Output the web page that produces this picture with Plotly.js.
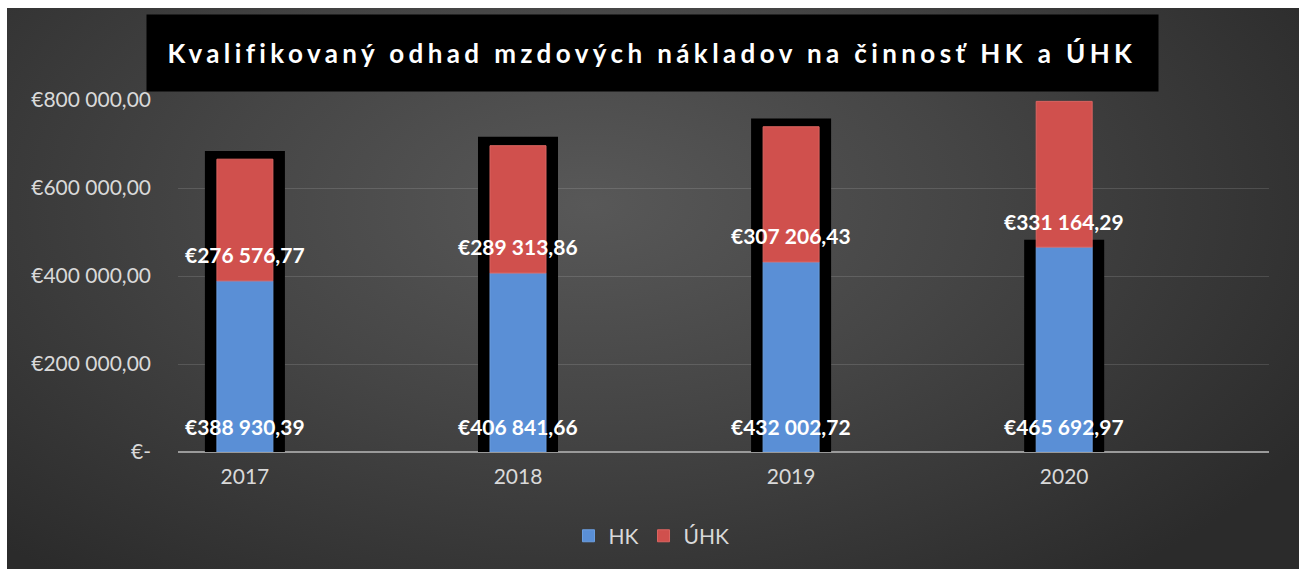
<!DOCTYPE html>
<html><head><meta charset="utf-8">
<script src="https://cdn.plot.ly/plotly-3.0.1.min.js"></script>
<style>
html,body{margin:0;padding:0;background:#fff;}
#chart{position:absolute;left:7px;top:8px;width:1292px;height:561px;
background: radial-gradient(ellipse 65% 85% at 45% 35%, #585858 0%, #454545 45%, #2b2b2b 100%);}
g.annotation[data-index="0"] text{letter-spacing:4.4px;}
</style></head><body><div id="chart"></div>
<script>
const years = ['2017','2018','2019','2020'];
const hk = [388930.39, 406841.66, 432002.72, 465692.97];
const uhk = [276576.77, 289313.86, 307206.43, 331164.29];
const shadowTop = [684000, 716500, 758000, 482500];
const yTickVals = [0, 200000, 400000, 600000, 800000];
const yTickText = ['€-', '€200 000,00', '€400 000,00', '€600 000,00', '€800 000,00'];
const seriesNames = ['HK', 'ÚHK'];
const titleText = 'Kvalifikovaný odhad mzdových nákladov na činnosť HK a ÚHK';

function fmt(v){
  const parts = v.toFixed(2).split('.');
  return '€' + parts[0].replace(/\B(?=(\d{3})+(?!\d))/g, ' ') + ',' + parts[1];
}

const FONT = 'Lato, "Open Sans", sans-serif';

const traces = [
  {type:'bar', x:years, y:shadowTop, width:0.293, marker:{color:'#000'}, showlegend:false, hoverinfo:'skip'},
  {type:'bar', name:seriesNames[0], x:years, y:hk, base:0, width:0.205, marker:{color:'#5a8fd6', line:{width:1, color:'#6c9fe0'}}},
  {type:'bar', name:seriesNames[1], x:years, y:uhk, base:hk, width:0.205, marker:{color:'#d0504d', line:{width:1, color:'#dc6561'}}}
];

const annotations = [{
  text:titleText, xref:'paper', yref:'paper', x:0.435, y:1, xanchor:'center', yanchor:'bottom', yshift:8,
  width:1011, height:76, bgcolor:'#000', borderpad:0, showarrow:false,
  font:{family:FONT, size:26, color:'#fff', weight:'bold'}
}];
years.forEach((yr, i) => {
  annotations.push({x:i, y:0, xref:'x', yref:'y', text:'<b>'+fmt(hk[i])+'</b>', showarrow:false,
    yanchor:'middle', yshift:26, font:{family:FONT, size:21, color:'#fff'}});
  annotations.push({x:i, y:hk[i], xref:'x', yref:'y', text:'<b>'+fmt(uhk[i])+'</b>', showarrow:false,
    yanchor:'middle', yshift:26, font:{family:FONT, size:21, color:'#fff'}});
});

const layout = {
  width:1292, height:561,
  paper_bgcolor:'rgba(0,0,0,0)', plot_bgcolor:'rgba(0,0,0,0)',
  margin:{l:171, r:30, t:92, b:117},
  barmode:'overlay',
  font:{family:FONT, color:'#d9d9d9', size:21},
  xaxis:{type:'category', range:[-0.245, 3.75], showgrid:false, zeroline:false, showline:false,
    ticks:'', ticklabelstandoff:10, tickfont:{size:21, color:'#d9d9d9'}},
  yaxis:{range:[0, 800000], tickvals:yTickVals, ticktext:yTickText, showgrid:true,
    gridcolor:'rgba(255,255,255,0.13)', gridwidth:1, zeroline:true, zerolinecolor:'#9a9a9a', zerolinewidth:2,
    ticks:'', ticklabelstandoff:26, tickfont:{size:21, color:'#d9d9d9'}},
  legend:{orientation:'h', x:0.434, xanchor:'center', y:-0.239, yanchor:'middle',
    font:{size:21, color:'#d9d9d9'}, bgcolor:'rgba(0,0,0,0)', traceorder:'normal'},
  annotations:annotations,
  showlegend:true
};

Plotly.newPlot('chart', traces, layout, {displayModeBar:false, staticPlot:true});
</script></body></html>
